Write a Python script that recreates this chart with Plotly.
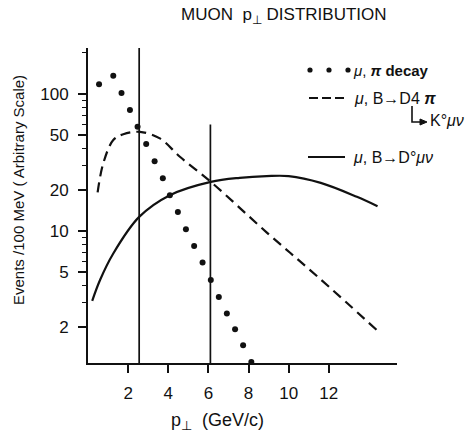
import math
import plotly.graph_objects as go

# ---- data ----
pi_x = [0.55, 1.26, 1.67, 2.09, 2.47, 2.90, 3.32, 3.73, 4.08, 4.48, 4.88, 5.29, 5.71, 6.12, 6.52, 6.92, 7.33, 7.73, 8.14]
pi_y = [118, 136, 102, 76.5, 57.7, 43.2, 32.4, 24.3, 18.3, 13.8, 10.3, 7.8, 5.9, 4.4, 3.3, 2.5, 1.92, 1.47, 1.11]

d4pi_x = [0.48, 0.76, 1.26, 1.76, 2.59, 3.58, 4.58, 6.12, 8.9, 11.54, 14.49]
d4pi_y = [19.2, 31.2, 46.2, 51.0, 53.0, 47.5, 34.9, 22.9, 9.8, 4.52, 1.84]

dmunu_x = [0.21, 0.6, 1.26, 2.55, 4.08, 6.12, 7.56, 8.9, 10.0, 11.6, 13.4, 14.43]
dmunu_y = [3.1, 4.4, 6.87, 12.7, 18.3, 22.9, 24.5, 25.2, 25.2, 22.5, 17.8, 15.2]

cut_x = [2.55, 6.1]
cut_top = [232, 60]

x_ticks = [2, 4, 6, 8, 10, 12]
y_ticks = [2, 5, 10, 20, 50, 100]
y_ticktext = ["2", "5", "10", "20", "50", "100"]

x_range = [0, 15.4]
y_range = [1.09, 217]

# ---- layout geometry (pixels) ----
W, H = 474, 437
L, R, T, B = 88, 77, 48, 74
PW, PH = W - L - R, H - T - B


def px(xp):
    return (xp - L) / PW


def py(yp):
    return (H - B - yp) / PH


FONT = "Liberation Sans, Arial, sans-serif"
INK = "#111111"

fig = go.Figure()

fig.add_trace(go.Scatter(x=dmunu_x, y=dmunu_y, mode="lines",
                         line=dict(color=INK, width=2.2, shape="spline", smoothing=1.0),
                         showlegend=False))
fig.add_trace(go.Scatter(x=d4pi_x, y=d4pi_y, mode="lines",
                         line=dict(color=INK, width=2.2, dash="10px,6px", shape="spline", smoothing=1.0),
                         showlegend=False))
fig.add_trace(go.Scatter(x=pi_x, y=pi_y, mode="markers",
                         marker=dict(color=INK, size=6),
                         showlegend=False, cliponaxis=False))
for cx, ct in zip(cut_x, cut_top):
    fig.add_trace(go.Scatter(x=[cx, cx], y=[y_range[0], ct], mode="lines",
                             line=dict(color=INK, width=1.7),
                             showlegend=False, cliponaxis=False))

shapes = []
annotations = []

# legend: dots
for xx in [310, 329, 348]:
    shapes.append(dict(type="circle", xref="paper", yref="paper",
                       xsizemode="pixel", ysizemode="pixel",
                       xanchor=px(xx), yanchor=py(70),
                       x0=-2.6, x1=2.6, y0=-2.6, y1=2.6,
                       fillcolor=INK, line=dict(width=0)))
# legend: dashed
shapes.append(dict(type="line", xref="paper", yref="paper",
                   x0=px(309), x1=px(345), y0=py(98), y1=py(98),
                   line=dict(color=INK, width=2.2, dash="9px,4px")))
# legend: solid
shapes.append(dict(type="line", xref="paper", yref="paper",
                   x0=px(308), x1=px(345), y0=py(157), y1=py(157),
                   line=dict(color=INK, width=2.2)))
# L-shaped arrow
shapes.append(dict(type="path", xref="paper", yref="paper",
                   path=f"M {px(412)},{py(106)} L {px(412)},{py(122)} L {px(421)},{py(122)}",
                   line=dict(color=INK, width=1.6)))
shapes.append(dict(type="path", xref="paper", yref="paper",
                   path=f"M {px(420)},{py(119)} L {px(427)},{py(122)} L {px(420)},{py(125)} Z",
                   fillcolor=INK, line=dict(color=INK, width=1)))

mu = "<i>μ</i>"
annotations.append(dict(text=f"{mu}, <i><b>π</b></i> <b>decay</b>", x=px(351), y=py(70),
                        xanchor="left", yanchor="middle", font=dict(size=15)))
annotations.append(dict(text=f"{mu}, B→D4 <i><b>π</b></i>", x=px(352), y=py(98),
                        xanchor="left", yanchor="middle", font=dict(size=16)))
annotations.append(dict(text=f"K°<i>μν</i>", x=px(428), y=py(121),
                        xanchor="left", yanchor="middle", font=dict(size=16)))
annotations.append(dict(text=f"{mu}, B→D°<i>μν</i>", x=px(351), y=py(157),
                        xanchor="left", yanchor="middle", font=dict(size=16)))
for a in annotations:
    a.update(xref="paper", yref="paper", showarrow=False)
    a["font"].update(family=FONT, color=INK)

# title
annotations.append(dict(text="MUON  p<sub>⊥</sub> DISTRIBUTION", xref="paper", yref="paper",
                        x=px(284), y=py(16), xanchor="center", yanchor="middle",
                        showarrow=False, font=dict(family=FONT, size=17, color=INK)))
# x title
annotations.append(dict(text="p<sub>⊥</sub>  (GeV/c)", xref="paper", yref="paper",
                        x=px(217), y=py(421), xanchor="center", yanchor="middle",
                        showarrow=False, font=dict(family=FONT, size=18, color=INK)))
# y title
annotations.append(dict(text="Events /100 MeV ( Arbitrary Scale)", xref="paper", yref="paper",
                        x=px(19), y=py(190), xanchor="center", yanchor="middle", textangle=-90,
                        showarrow=False, font=dict(family=FONT, size=15, color=INK)))

fig.update_layout(
    width=W, height=H,
    margin=dict(l=L, r=R, t=T, b=B, pad=0, autoexpand=False),
    paper_bgcolor="white", plot_bgcolor="white",
    shapes=shapes, annotations=annotations,
    font=dict(family=FONT, color=INK),
)
fig.update_xaxes(range=x_range, showgrid=False, zeroline=False,
                 showline=True, linecolor=INK, linewidth=1.8,
                 tickvals=x_ticks, ticktext=[str(v) for v in x_ticks],
                 ticks="outside", ticklen=8, tickwidth=1.8, tickcolor=INK,
                 ticklabelstandoff=6,
                 tickfont=dict(family=FONT, size=17, color=INK))
fig.update_yaxes(type="log", range=[math.log10(y_range[0]), math.log10(y_range[1])],
                 showgrid=False, zeroline=False,
                 showline=True, linecolor=INK, linewidth=2,
                 tickvals=y_ticks, ticktext=y_ticktext,
                 ticks="outside", ticklen=8, tickwidth=1.8, tickcolor=INK,
                 ticklabelstandoff=6,
                 tickfont=dict(family=FONT, size=17, color=INK),
                 minor=dict(ticks="outside", ticklen=4, tickwidth=1.2, tickcolor=INK, dtick="D1", showgrid=False))

fig.write_html("out.html", config={"displayModeBar": False},
               post_script="document.body.style.margin='0';document.body.style.padding='0';")
